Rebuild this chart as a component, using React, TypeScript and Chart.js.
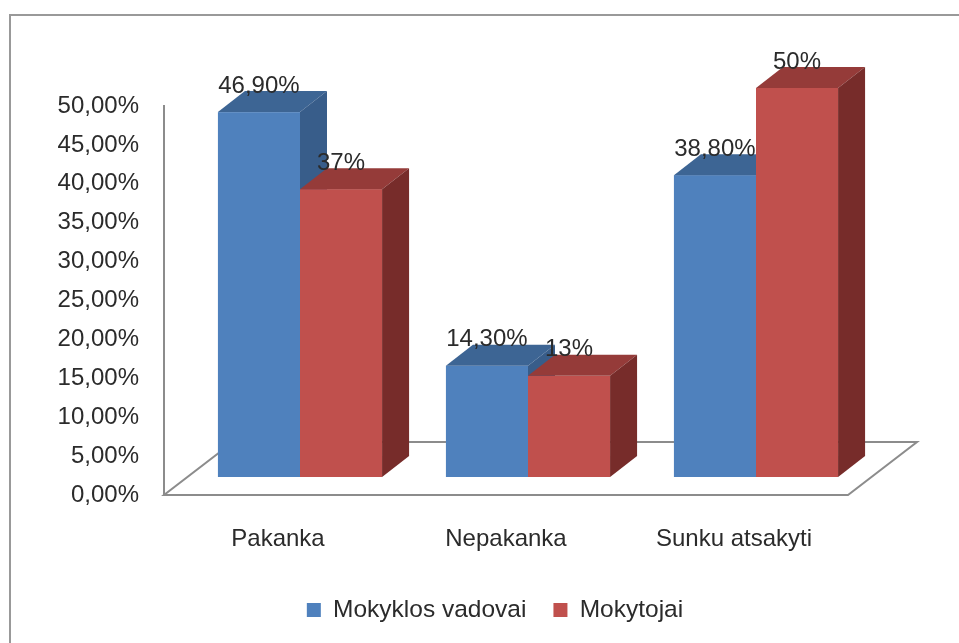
import React, { useEffect, useRef } from 'react';
import { Chart, registerables } from 'chart.js';

Chart.register(...registerables);

// ---- data ----
const CATEGORIES = ['Pakanka', 'Nepakanka', 'Sunku atsakyti'];
const SERIES_NAMES = ['Mokyklos vadovai', 'Mokytojai'];
const VADOVAI = [46.9, 14.3, 38.8];
const MOKYTOJAI = [37, 13, 50];
const LABEL_DECIMALS = [2, 0];
const Y_MIN = 0;
const Y_MAX = 50;
const Y_STEP = 5;
const TICK_DECIMALS = 2;

// ---- styles ----
const FRONT = ['#4F81BD', '#C0504D'];
const TOP = ['#3D6594', '#953B39'];
const SIDE = ['#385D8A', '#772C2A'];
const FONT = "'Liberation Sans', Arial, sans-serif";
const TEXT = '#2b2b2b';
const LINE = '#8c8c8c';

// ---- layout ----
const W = 959;
const H = 643;
const AREA_LEFT = 164;
const AREA_RIGHT = 848;
const AREA_TOP = 106;
const AREA_BOTTOM = 495;
const FONT_SIZE = 24;
const LEGEND_FONT = 24.5;
const LEGEND_PAD = 27;
const LEGEND_BOX = 14;
const LEGEND_CENTER_Y = 610;
const PAD_LEFT = 38;
const LEGEND_RIGHT = 952;
const legendTop = LEGEND_CENTER_Y - LEGEND_PAD - LEGEND_FONT / 2;
const legendHeight = LEGEND_FONT + LEGEND_PAD + 10;
const PAD_BOTTOM = H - legendTop - legendHeight;
const X_AXIS_H = legendTop - AREA_BOTTOM;
const Y_AXIS_W = AREA_LEFT - PAD_LEFT;
const PAD_RIGHT = W - LEGEND_RIGHT;
const RIGHT_SPACER_W = LEGEND_RIGHT - AREA_RIGHT;

const SHIFT = { x: 22, y: -18 };
const DEPTH = { x: 27, y: -21 };
const FLOOR = { x: 69, y: -53 };

const fmt = (v: number, d: number) => v.toFixed(d).replace('.', ',') + '%';

const threeD = {
  id: 'threeD',
  beforeDraw(chart: any) {
    const ctx = chart.ctx;
    ctx.save();
    ctx.fillStyle = '#ffffff';
    ctx.fillRect(0, 0, chart.width, chart.height);
    ctx.strokeStyle = '#999999';
    ctx.lineWidth = 2;
    ctx.strokeRect(10, 15, chart.width + 50, chart.height + 50);
    ctx.restore();
  },
  beforeDatasetsDraw(chart: any) {
    const { ctx, chartArea } = chart;
    const l = chartArea.left;
    const r = chartArea.right;
    const b = chartArea.bottom;
    ctx.save();
    ctx.strokeStyle = LINE;
    ctx.lineWidth = 2;
    ctx.beginPath();
    ctx.moveTo(l, b);
    ctx.lineTo(r, b);
    ctx.lineTo(r + FLOOR.x, b + FLOOR.y);
    ctx.lineTo(l + FLOOR.x, b + FLOOR.y);
    ctx.closePath();
    ctx.stroke();
    ctx.restore();
  },
  beforeDatasetDraw() {
    return false;
  },
  afterDatasetsDraw(chart: any) {
    const ctx = chart.ctx;
    const nSets = chart.data.datasets.length;
    const nCats = chart.data.labels.length;
    const geo: any[][] = [];
    for (let d = 0; d < nSets; d++) {
      const meta = chart.getDatasetMeta(d);
      geo[d] = meta.data.map((el: any) => {
        const L = el.x - el.width / 2 + SHIFT.x;
        const R = el.x + el.width / 2 + SHIFT.x;
        const T = Math.min(el.y, el.base) + SHIFT.y;
        const B = Math.max(el.y, el.base) + SHIFT.y;
        return { L, R, T, B };
      });
    }
    ctx.save();
    for (let c = 0; c < nCats; c++) {
      for (let d = 0; d < nSets; d++) {
        const g = geo[d][c];
        if (!g) continue;
        ctx.fillStyle = FRONT[d];
        ctx.fillRect(g.L, g.T, g.R - g.L, g.B - g.T);
        ctx.fillStyle = TOP[d];
        ctx.beginPath();
        ctx.moveTo(g.L, g.T);
        ctx.lineTo(g.R, g.T);
        ctx.lineTo(g.R + DEPTH.x, g.T + DEPTH.y);
        ctx.lineTo(g.L + DEPTH.x, g.T + DEPTH.y);
        ctx.closePath();
        ctx.fill();
        ctx.fillStyle = SIDE[d];
        ctx.beginPath();
        ctx.moveTo(g.R, g.T);
        ctx.lineTo(g.R + DEPTH.x, g.T + DEPTH.y);
        ctx.lineTo(g.R + DEPTH.x, g.B + DEPTH.y);
        ctx.lineTo(g.R, g.B);
        ctx.closePath();
        ctx.fill();
      }
    }
    ctx.fillStyle = TEXT;
    ctx.font = `${FONT_SIZE}px ${FONT}`;
    ctx.textAlign = 'center';
    ctx.textBaseline = 'middle';
    for (let d = 0; d < nSets; d++) {
      const values = chart.data.datasets[d].data;
      for (let c = 0; c < nCats; c++) {
        const g = geo[d][c];
        if (!g) continue;
        ctx.fillText(fmt(values[c], LABEL_DECIMALS[d]), (g.L + g.R) / 2, g.T - 26);
      }
    }
    ctx.restore();
  },
};

export default function App() {
  const ref = useRef<HTMLCanvasElement | null>(null);

  useEffect(() => {
    if (!ref.current) return;
    const chart = new Chart(ref.current, {
      type: 'bar',
      data: {
        labels: CATEGORIES,
        datasets: [
          { label: SERIES_NAMES[0], data: VADOVAI, backgroundColor: FRONT[0], borderWidth: 0, clip: false } as any,
          { label: SERIES_NAMES[1], data: MOKYTOJAI, backgroundColor: FRONT[1], borderWidth: 0, clip: false } as any,
        ],
      },
      options: {
        responsive: false,
        animation: false,
        devicePixelRatio: 1,
        datasets: { bar: { categoryPercentage: 0.72, barPercentage: 1 } },
        layout: {
          padding: { left: PAD_LEFT, right: PAD_RIGHT, top: AREA_TOP, bottom: PAD_BOTTOM },
        },
        plugins: {
          legend: {
            position: 'bottom',
            labels: {
              boxWidth: LEGEND_BOX,
              boxHeight: LEGEND_BOX,
              padding: LEGEND_PAD,
              color: TEXT,
              font: { size: LEGEND_FONT, family: FONT },
            },
          },
          tooltip: { enabled: false },
        },
        scales: {
          x: {
            grid: { display: false, drawTicks: false },
            border: { display: false },
            ticks: {
              color: TEXT,
              font: { size: FONT_SIZE, family: FONT },
              padding: 30,
              maxRotation: 0,
              autoSkip: false,
            },
            afterFit: (s: any) => {
              s.height = X_AXIS_H;
            },
          },
          y: {
            min: Y_MIN,
            max: Y_MAX,
            grid: { display: false, drawTicks: false },
            border: { display: true, color: LINE, width: 2 },
            ticks: {
              stepSize: Y_STEP,
              color: TEXT,
              font: { size: FONT_SIZE, family: FONT },
              padding: 25,
              callback: (v: any) => fmt(Number(v), TICK_DECIMALS),
            },
            afterFit: (s: any) => {
              s.width = Y_AXIS_W;
            },
          },
          spacer: {
            type: 'linear',
            position: 'right',
            display: true,
            grid: { display: false, drawTicks: false },
            border: { display: false },
            ticks: { display: false },
            afterFit: (s: any) => {
              s.width = RIGHT_SPACER_W;
            },
          },
        },
      } as any,
      plugins: [threeD as any],
    });
    return () => chart.destroy();
  }, []);

  return (
    <div
      style={{
        position: 'fixed',
        left: 0,
        top: 0,
        width: W,
        height: H,
        overflow: 'hidden',
        background: '#ffffff',
      }}
    >
      <canvas ref={ref} width={W} height={H} style={{ display: 'block', width: W, height: H }} />
    </div>
  );
}
